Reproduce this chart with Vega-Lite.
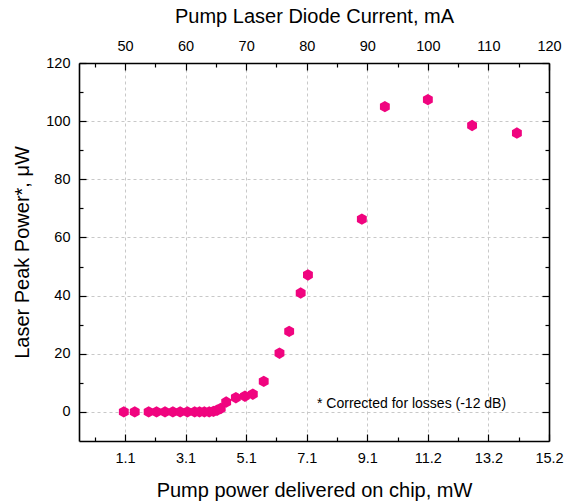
{
  "$schema": "https://vega.github.io/schema/vega-lite/v6.json",
  "width": 470,
  "height": 378,
  "autosize": {"type": "none"},
  "padding": {"left": 79, "top": 63, "right": 16, "bottom": 63},
  "config": {
    "font": "Liberation Sans",
    "view": {"stroke": null},
    "axis": {
      "labelFont": "Liberation Sans",
      "titleFont": "Liberation Sans",
      "labelFontSize": 14.5,
      "titleFontSize": 20,
      "titleFontWeight": "normal",
      "labelColor": "#000000",
      "titleColor": "#000000",
      "domainColor": "#000000",
      "domainWidth": 1.6,
      "tickColor": "#000000",
      "tickWidth": 1.2,
      "gridColor": "#c8c8c8",
      "gridDash": [3, 3],
      "gridWidth": 1,
      "labelFlush": false,
      "labelOverlap": false
    }
  },
  "data": {
    "values": [
      {"current": 49.8, "power": 0},
      {"current": 51.6, "power": 0},
      {"current": 53.9, "power": 0},
      {"current": 55.2, "power": 0},
      {"current": 56.6, "power": 0},
      {"current": 57.9, "power": 0},
      {"current": 59.1, "power": 0},
      {"current": 60.3, "power": 0},
      {"current": 61.5, "power": 0},
      {"current": 62.3, "power": 0},
      {"current": 63.1, "power": 0},
      {"current": 63.9, "power": 0},
      {"current": 64.6, "power": 0.2},
      {"current": 65.2, "power": 0.6},
      {"current": 65.8, "power": 1.2},
      {"current": 66.7, "power": 3.4},
      {"current": 68.3, "power": 4.9},
      {"current": 69.8, "power": 5.4},
      {"current": 71.1, "power": 6.1},
      {"current": 72.9, "power": 10.5},
      {"current": 75.5, "power": 20.2},
      {"current": 77.1, "power": 27.7},
      {"current": 79.0, "power": 40.9},
      {"current": 80.2, "power": 47.1},
      {"current": 89.1, "power": 66.3},
      {"current": 92.9, "power": 105.0},
      {"current": 100.0, "power": 107.4},
      {"current": 107.3, "power": 98.5},
      {"current": 114.7, "power": 95.9}
    ]
  },
  "layer": [
    {
      "mark": {"type": "point", "opacity": 0},
      "encoding": {
        "x": {"field": "current", "type": "quantitative", "scale": {"domain": [42.4, 120], "nice": false, "zero": false},
          "axis": {"orient": "bottom", "values": [45, 55, 65, 75, 85, 95, 105, 115], "labels": false, "domain": false, "grid": false, "ticks": true, "tickSize": -4, "title": null}},
        "y": {"field": "power", "type": "quantitative", "scale": {"domain": [-10, 120], "nice": false, "zero": false},
          "axis": {"orient": "left", "values": [10, 30, 50, 70, 90, 110], "labels": false, "domain": false, "grid": false, "tickSize": -4, "title": null}}
      }
    },
    {
      "mark": {"type": "point", "opacity": 0},
      "encoding": {
        "x": {"field": "current", "type": "quantitative",
          "axis": {"orient": "top", "values": [45, 55, 65, 75, 85, 95, 105, 115], "labels": false, "domain": false, "grid": false, "tickSize": -4, "title": null}},
        "y": {"field": "power", "type": "quantitative",
          "axis": {"orient": "right", "values": [10, 30, 50, 70, 90, 110], "labels": false, "domain": false, "grid": false, "tickSize": -4, "title": null}}
      }
    },
    {
      "mark": {"type": "point", "opacity": 0},
      "encoding": {
        "x": {"field": "current", "type": "quantitative",
          "axis": {"orient": "top", "values": [50, 60, 70, 80, 90, 100, 110, 120], "grid": false, "tickSize": -7, "labelPadding": 17, "title": "Pump Laser Diode Current, mA", "titlePadding": 12}},
        "y": {"field": "power", "type": "quantitative",
          "axis": {"orient": "right", "values": [0, 20, 40, 60, 80, 100, 120], "labels": false, "grid": false, "tickSize": -7, "title": null}}
      }
    },
    {
      "mark": {"type": "point", "shape": "M0,-1L0.866,-0.5L0.866,0.5L0,1L-0.866,0.5L-0.866,-0.5Z", "filled": true, "size": 130, "color": "#F0047F", "opacity": 1},
      "encoding": {
        "x": {"field": "current", "type": "quantitative",
          "axis": {"orient": "bottom", "values": [50, 60, 70, 80, 90, 100, 110, 120], "grid": true, "tickSize": -7, "labelPadding": 17,
            "labelExpr": "datum.value == 50 ? '1.1' : datum.value == 60 ? '3.1' : datum.value == 70 ? '5.1' : datum.value == 80 ? '7.1' : datum.value == 90 ? '9.1' : datum.value == 100 ? '11.2' : datum.value == 110 ? '13.2' : '15.2'",
            "title": "Pump power delivered on chip, mW", "titlePadding": 16}},
        "y": {"field": "power", "type": "quantitative",
          "axis": {"orient": "left", "values": [0, 20, 40, 60, 80, 100, 120], "grid": true, "tickSize": -7, "labelPadding": 16,
            "title": "Laser Peak Power*, μW", "titlePadding": 13}}
      }
    },
    {
      "data": {"values": [{"current": 81.7, "power": 2.6, "note": "* Corrected for losses (-12 dB)"}]},
      "mark": {"type": "text", "align": "left", "baseline": "middle", "fontSize": 14, "font": "Liberation Sans", "color": "#000000"},
      "encoding": {
        "x": {"field": "current", "type": "quantitative", "axis": null},
        "y": {"field": "power", "type": "quantitative", "axis": null},
        "text": {"field": "note"}
      }
    }
  ],
  "resolve": {"axis": {"x": "independent", "y": "independent"}}
}
